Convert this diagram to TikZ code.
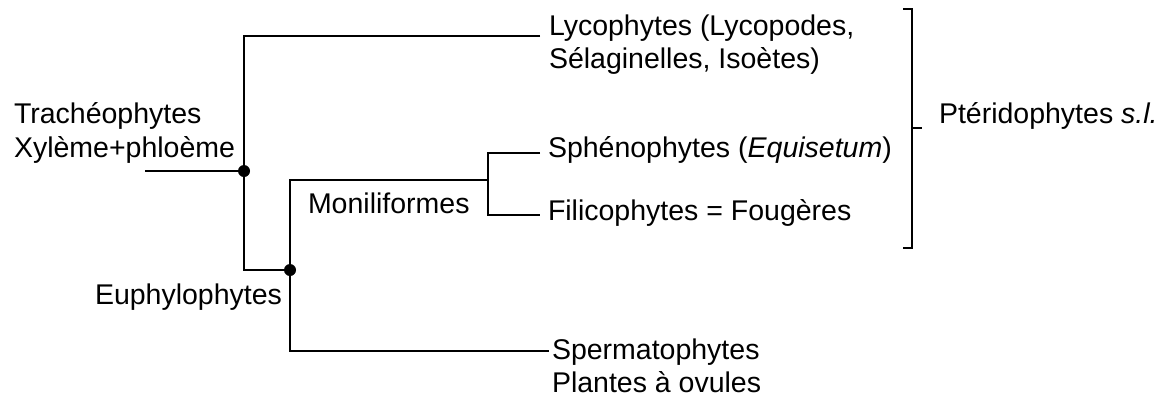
\documentclass[tikz,border=0pt]{standalone}
\usepackage{fontspec}
\setmainfont{Liberation Sans}
\begin{document}
\begin{tikzpicture}[x=1pt,y=-1pt,line width=2pt,
  lbl/.style={anchor=base west,inner sep=0pt,font=\fontsize{28.5}{34}\selectfont},
  dot/.style={circle,fill=black,inner sep=0pt,minimum size=12pt}]
\useasboundingbox (0,0) rectangle (1166,400);

% branch points and free ends of the tree
\coordinate (root) at (145,171);
\node[dot] (n1) at (244,171) {};
\node[dot] (n2) at (290,270) {};
\coordinate (m) at (488,180);
\coordinate (lycE) at (540,36);
\coordinate (sphE) at (540,153);
\coordinate (filE) at (540,215);
\coordinate (speE) at (549,351);

% labels
\node[lbl] (trach1) at (13,123) {Trachéophytes};
\node[lbl] (trach2) at (13,157) {Xylème+phloème};
\node[lbl] (eup) at (94,304) {Euphylophytes};
\node[lbl] (mon) at (307,213) {Moniliformes};
\node[lbl] (lyc1) at (548,35) {Lycophytes (Lycopodes,};
\node[lbl] (lyc2) at (548,68) {Sélaginelles, Isoètes)};
\node[lbl] (sph) at (547,157) {Sphénophytes (\textit{Equisetum})};
\node[lbl] (fil) at (547,220) {Filicophytes = Fougères};
\node[lbl] (spe1) at (551,359) {Spermatophytes};
\node[lbl] (spe2) at (551,392) {Plantes à ovules};
\node[lbl] (pter) at (938,123) {Ptéridophytes \textit{s.l.}};

% tree
\draw (root) -- (n1.center);
\draw (lycE) -| (n1.center) |- (n2.center);
\draw (m) -| (n2.center) |- (speE);
\draw (sphE) -| (m) |- (filE);

% bracket grouping the pteridophytes
\coordinate (brT) at (903,9);
\coordinate (brB) at (903,248);
\coordinate (brM) at (912,128);
\coordinate (brTick) at (922,128);
\draw (brT) -- ++(9,0) |- (brB);
\draw (brM) -- (brTick);
\end{tikzpicture}
\end{document}
